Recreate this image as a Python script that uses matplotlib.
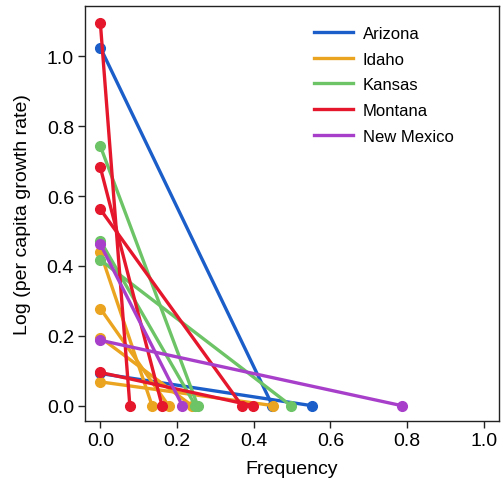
import matplotlib
matplotlib.use("Agg")
import matplotlib.pyplot as plt

plt.rcParams['font.family'] = ['Liberation Sans', 'DejaVu Sans']

states = ["Arizona", "Idaho", "Kansas", "Montana", "New Mexico"]
colors = ["#1b5ec9", "#eba420", "#6cc466", "#e5172c", "#a83fca"]

# growth rate (at frequency 0) and frequency (at growth rate 0) per segment
growth = {
    "Arizona": [1.025, 0.092],
    "Idaho": [0.439, 0.278, 0.195, 0.068],
    "Kansas": [0.743, 0.472, 0.417],
    "Montana": [1.096, 0.682, 0.562, 0.095],
    "New Mexico": [0.462, 0.187],
}
freq = {
    "Arizona": [0.449, 0.551],
    "Idaho": [0.135, 0.178, 0.239, 0.451],
    "Kansas": [0.254, 0.248, 0.497],
    "Montana": [0.077, 0.161, 0.369, 0.398],
    "New Mexico": [0.214, 0.786],
}

xticks = [0.0, 0.2, 0.4, 0.6, 0.8, 1.0]
yticks = [0.0, 0.2, 0.4, 0.6, 0.8, 1.0]

fig = plt.figure(figsize=(5.01, 4.85), dpi=100)
ax = fig.add_axes([85/501, 1-422/485, 414/501, 415/485])

for st, c in zip(states, colors):
    for g, f in zip(growth[st], freq[st]):
        ax.plot([0, f], [g, 0], color=c, lw=2.4, marker='o', ms=7,
                solid_capstyle='butt', zorder=2)
    ax.plot([], [], color=c, lw=2.4, label=st)

ax.set_xlim(-0.04, 1.04)
ax.set_ylim(-0.044, 1.144)
ax.set_xticks(xticks)
ax.set_yticks(yticks)
ax.set_xticklabels([f"{v:.1f}" for v in xticks])
ax.set_yticklabels([f"{v:.1f}" for v in yticks])
ax.tick_params(direction='out', length=5, width=1, labelsize=14, pad=3, color='#222222')
for s in ax.spines.values():
    s.set_linewidth(1.0)
    s.set_color('#222222')

ax.set_xlabel("Frequency", fontsize=14, labelpad=8)
ax.set_ylabel("Log (per capita growth rate)", fontsize=14, labelpad=11)

ax.legend(loc='upper left', bbox_to_anchor=(0.538, 0.968), frameon=False,
          fontsize=12, handlelength=2.3, handletextpad=0.6, labelspacing=0.64,
          borderaxespad=0)

fig.savefig("out.png", dpi=100)
